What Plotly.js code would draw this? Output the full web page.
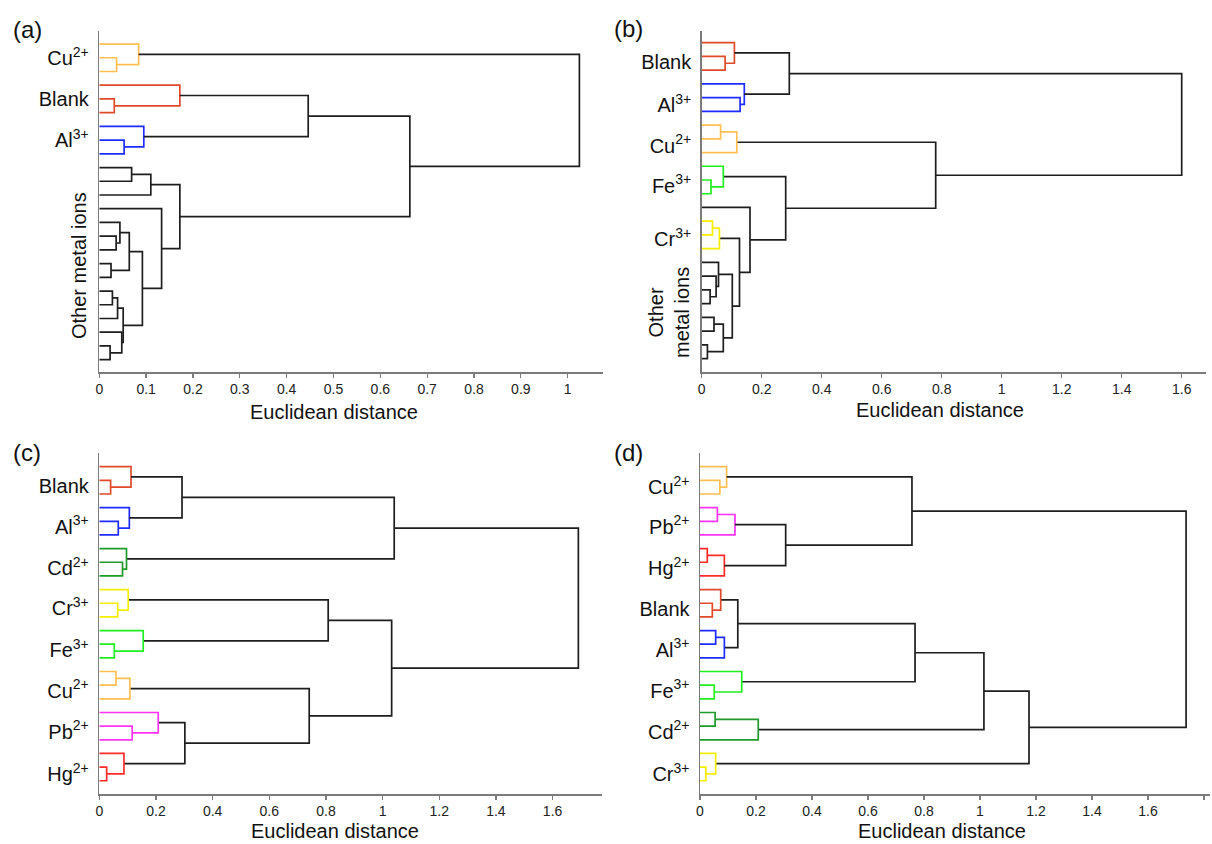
<!DOCTYPE html>
<html>
<head>
<meta charset="utf-8">
<script src="https://cdn.plot.ly/plotly-3.0.1.min.js"></script>
<style>html,body{margin:0;padding:0;background:#fff;}#chart{width:1212px;height:844px;}</style>
</head>
<body>
<div id="chart"></div>
<script>
// ---------------- DATA ----------------
// Linkage lists: [childA, childB, height]; leaves are 0..23 (top to bottom), merge k gets id 24+k.
const A_MERGES = [
  [1,2,0.037],[0,24,0.084],
  [4,5,0.032],[3,26,0.172],
  [7,8,0.053],[6,28,0.095],
  [9,10,0.069],[30,11,0.110],
  [14,15,0.036],[13,32,0.044],[16,17,0.025],[33,34,0.064],
  [18,19,0.028],[36,20,0.039],[22,23,0.023],[21,38,0.048],[37,39,0.051],
  [35,40,0.092],[12,41,0.133],[31,42,0.172],
  [27,29,0.446],[44,43,0.663],[25,45,1.025]
];
const A_GROUPS = ['cu','cu','blank','blank','al','al','k','k','k','k','k','k','k','k','k','k','k','k','k','k','k','k','k'];
const A_LABELS = ['Cu<sup>2+</sup>','Blank','Al<sup>3+</sup>'];
const A_LABEL_POS = [1.05, 4.0, 7.0];

const B_MERGES = [
  [1,2,0.078],[0,24,0.109],
  [4,5,0.128],[3,26,0.142],
  [25,27,0.292],
  [6,7,0.063],[29,8,0.117],
  [10,11,0.031],[9,31,0.072],
  [13,14,0.036],[33,15,0.059],
  [18,19,0.028],[17,35,0.048],[16,36,0.056],
  [20,21,0.041],[22,23,0.019],[38,39,0.072],
  [37,40,0.102],[34,41,0.126],[12,42,0.161],
  [32,43,0.280],[30,44,0.780],[28,45,1.600]
];
const B_GROUPS = ['blank','blank','al','al','k','cu','cu','fe','fe','cr','cr','k','k','k','k','k','k','k','k','k','k','k','k'];
const B_LABELS = ['Blank','Al<sup>3+</sup>','Cu<sup>2+</sup>','Fe<sup>3+</sup>','Cr<sup>3+</sup>'];
const B_LABEL_POS = [1.38, 4.56, 7.5, 10.4, 14.3];

const C_MERGES = [
  [1,2,0.040],[0,24,0.112],
  [4,5,0.067],[3,26,0.106],
  [25,27,0.292],
  [7,8,0.082],[6,29,0.096],
  [28,30,1.041],
  [10,11,0.065],[9,32,0.102],
  [13,14,0.053],[12,34,0.155],
  [33,35,0.808],
  [15,16,0.059],[37,17,0.108],
  [19,20,0.116],[18,39,0.208],
  [22,23,0.026],[21,41,0.087],
  [40,42,0.302],[38,43,0.741],[36,44,1.032],[31,45,1.691]
];
const C_GROUPS = ['blank','blank','al','al','k','cd','cd','k','cr','cr','fe','fe','k','cu','cu','pb','pb','hg','hg','k','k','k','k'];
const C_LABELS = ['Blank','Al<sup>3+</sup>','Cd<sup>2+</sup>','Cr<sup>3+</sup>','Fe<sup>3+</sup>','Cu<sup>2+</sup>','Pb<sup>2+</sup>','Hg<sup>2+</sup>'];
const C_LABEL_POS = [1.42, 4.4, 7.45, 10.35, 13.45, 16.4, 19.4, 22.5];

const D_MERGES = [
  [1,2,0.071],[0,24,0.095],
  [3,4,0.062],[26,5,0.125],
  [6,7,0.026],[28,8,0.087],
  [27,29,0.306],[25,30,0.757],
  [10,11,0.044],[9,32,0.074],
  [12,13,0.056],[34,14,0.087],
  [33,35,0.135],
  [16,17,0.051],[15,37,0.149],
  [36,38,0.768],
  [18,19,0.054],[40,20,0.208],
  [39,41,1.014],
  [22,23,0.021],[21,43,0.056],
  [42,44,1.175],[31,45,1.736]
];
const D_GROUPS = ['cu','cu','pb','pb','hg','hg','k','k','blank','blank','al','al','k','fe','fe','k','cd','cd','k','cr','cr','k','k'];
const D_LABELS = ['Cu<sup>2+</sup>','Pb<sup>2+</sup>','Hg<sup>2+</sup>','Blank','Al<sup>3+</sup>','Fe<sup>3+</sup>','Cd<sup>2+</sup>','Cr<sup>3+</sup>'];
const D_LABEL_POS = [1.5, 4.4, 7.45, 10.4, 13.4, 16.4, 19.4, 22.5];

const X_TITLE = 'Euclidean distance';
const PANEL_TAGS = ['(a)','(b)','(c)','(d)'];
const OTHER_A = 'Other metal ions';
const OTHER_B = 'Other<br>metal ions';

// ---------------- STYLE ----------------
const COLORS = {
  k:'#1e1e1e', cu:'#FFBF52', blank:'#DF4A2A', al:'#1F2BFF', fe:'#1FEE1F',
  cr:'#F4EE00', cd:'#1E9A2A', pb:'#FF33F5', hg:'#FF2B2B'
};
const FONT = 'Arial, "Liberation Sans", sans-serif';
const W = 1212, H = 844;

function dendroTraces(merges, groups, xa, ya){
  const n = merges.length + 1;
  const pos = [], hgt = [];
  for(let i=0;i<n;i++){ pos[i]=i; hgt[i]=0; }
  const segs = {};
  merges.forEach((m,k)=>{
    const a=m[0], b=m[1], h=m[2], id=n+k;
    pos[id]=(pos[a]+pos[b])/2; hgt[id]=h;
    const g=groups[k];
    if(!segs[g]) segs[g]={x:[],y:[]};
    segs[g].x.push(hgt[a],h,h,hgt[b],null);
    segs[g].y.push(pos[a],pos[a],pos[b],pos[b],null);
  });
  return Object.keys(segs).map(g=>({
    type:'scatter', mode:'lines', x:segs[g].x, y:segs[g].y,
    xaxis:xa, yaxis:ya, hoverinfo:'skip', showlegend:false,
    line:{color:COLORS[g], width:1.7}
  }));
}

function xAxis(px0, px1, range, dtick, anchor){
  return {
    domain:[px0/W, px1/W], range:range, anchor:anchor, dtick:dtick, tick0:0,
    showline:true, linecolor:'#7b7b7b', linewidth:1.5, mirror:false,
    ticks:'outside', ticklen:4, tickwidth:1.3, tickcolor:'#7b7b7b',
    tickfont:{size:14, color:'#222', family:FONT},
    showgrid:false, zeroline:false, fixedrange:true
  };
}
function yAxis(py0, py1, range, vals, texts, anchor){
  return {
    domain:[1-py1/H, 1-py0/H], range:range, anchor:anchor,
    showline:true, linecolor:'#7b7b7b', linewidth:1.5,
    ticks:'', tickvals:vals, ticktext:texts, ticklabelstandoff:5,
    tickfont:{size:20, color:'#111', family:FONT},
    showgrid:false, zeroline:false, fixedrange:true
  };
}

const traces = [].concat(
  dendroTraces(A_MERGES, A_GROUPS, 'x', 'y'),
  dendroTraces(B_MERGES, B_GROUPS, 'x2', 'y2'),
  dendroTraces(C_MERGES, C_GROUPS, 'x3', 'y3'),
  dendroTraces(D_MERGES, D_GROUPS, 'x4', 'y4')
);

function ann(text, px, py, size, angle){
  return {text:text, x:px/W, y:1-py/H, xref:'paper', yref:'paper', showarrow:false,
    xanchor:'center', yanchor:'middle', textangle:angle||0,
    font:{size:size, color:'#111', family:FONT}};
}

const layout = {
  width:W, height:H, margin:{l:0,r:0,t:0,b:0},
  paper_bgcolor:'#fff', plot_bgcolor:'#fff', showlegend:false,
  font:{family:FONT, color:'#111'},
  xaxis:  xAxis(99.3, 603, [0,1.0754], 0.1, 'y'),
  yaxis:  yAxis(31, 372, [23.9,-0.95], A_LABEL_POS, A_LABELS, 'x'),
  xaxis2: xAxis(701.7, 1206, [0,1.681], 0.2, 'y2'),
  yaxis2: yAxis(31, 372, [23.98,-0.85], B_LABEL_POS, B_LABELS, 'x2'),
  xaxis3: xAxis(99.3, 601.7, [0,1.7734], 0.2, 'y3'),
  yaxis3: yAxis(453.3, 794, [23.97,-0.98], C_LABEL_POS, C_LABELS, 'x3'),
  xaxis4: xAxis(700, 1210, [0,1.8214], 0.2, 'y4'),
  yaxis4: yAxis(453.3, 794, [23.97,-0.98], D_LABEL_POS, D_LABELS, 'x4'),
  annotations:[
    ann(PANEL_TAGS[0], 27, 29, 24), ann(PANEL_TAGS[1], 628, 28, 24),
    ann(PANEL_TAGS[2], 27, 452, 24), ann(PANEL_TAGS[3], 628, 452, 24),
    ann(X_TITLE, 334, 412, 20), ann(X_TITLE, 940, 410, 20),
    ann(X_TITLE, 335, 831, 20), ann(X_TITLE, 942, 831, 20),
    ann(OTHER_A, 79.5, 265.5, 20, -90),
    ann(OTHER_B, 669, 313, 20, -90)
  ]
};

Plotly.newPlot('chart', traces, layout, {staticPlot:true, displayModeBar:false});
</script>
</body>
</html>
